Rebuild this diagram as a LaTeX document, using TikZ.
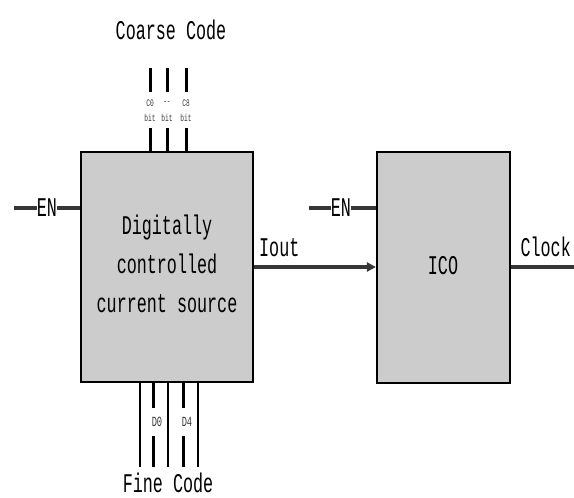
\documentclass[tikz,border=0pt]{standalone}
\usepackage{fontspec}
\setmonofont[FakeStretch=0.62]{Liberation Mono}
\usepackage{tikz}
\usetikzlibrary{arrows.meta,calc,positioning}

\definecolor{boxgray}{RGB}{204,204,204}
\definecolor{wiregray}{RGB}{55,55,55}

\begin{document}
\begin{tikzpicture}[x=1pt,y=-1pt,
  block/.style={draw=black,line width=2.2pt,fill=boxgray,inner sep=0pt},
  lbl/.style={font=\ttfamily\fontsize{27}{39}\selectfont,inner sep=1pt},
  tiny/.style={font=\ttfamily\fontsize{10}{10}\selectfont,inner sep=0pt,text=wiregray},
  bus/.style={line width=3pt,draw=black},
  thinbus/.style={line width=1.6pt,draw=black},
  wire/.style={line width=4pt,draw=wiregray}]
\useasboundingbox (0,0) rectangle (574,498);

% Blocks
\node[block,minimum width=172pt,minimum height=230pt] (dccs) at (167,267) {};
\node[lbl,align=center] (dccstext) at (167,264) {Digitally\\controlled\\current source};
\node[block,minimum width=133pt,minimum height=231pt] (ico) at (443.5,267.5) {};
\node[lbl] (icotext) at (443,266) {ICO};

% Enable inputs
\coordinate (enA) at (14,208);
\coordinate (enB) at (309,208);
\draw[wire] (enA) -- (enA -| dccs.west);
\draw[wire] (enB) -- (enB -| ico.west);
\node[lbl,fill=white,inner sep=0pt] (enAtext) at (47,208) {EN};
\node[lbl,fill=white,inner sep=0pt] (enBtext) at (341,208) {EN};

% Iout and clock
\draw[-{Triangle[length=9pt,width=9pt]},line width=3.2pt,draw=wiregray] (dccs.east |- 0,267) -- (ico.west |- 0,267) coordinate (ioutend);
\node[lbl,anchor=south west] (iout) at (258,258) {Iout};
\coordinate (clkend) at (574,267);
\draw[wire] (ico.east |- clkend) -- (clkend);
\node[lbl,anchor=south east] (clock) at (572,258) {Clock};

% Coarse code bus
\node[lbl] (coarse) at (171,30) {Coarse Code};
\foreach \x/\top in {150/C0,167/--,186/C8}{
  \draw[bus] (\x,68) -- (\x,92);
  \draw[bus] (\x,128) -- (\x,0 |- dccs.north);
  \node[tiny] at (\x,103) {\top};
  \node[tiny] at (\x,118) {bit};
}

% Fine code bus
\node[lbl] (fine) at (168,483) {Fine Code};
\foreach \x in {140,168,198}
  \draw[thinbus] (\x,0 |- dccs.south) -- (\x,467);
\foreach \x/\bit in {153/D0,183/D4}{
  \draw[bus] (\x,0 |- dccs.south) -- (\x,408);
  \draw[bus] (\x,436) -- (\x,467);
  \node[tiny,font=\ttfamily\fontsize{14}{14}\selectfont,fill=white] at (\x+4,422) {\bit};
}
\end{tikzpicture}
\end{document}
